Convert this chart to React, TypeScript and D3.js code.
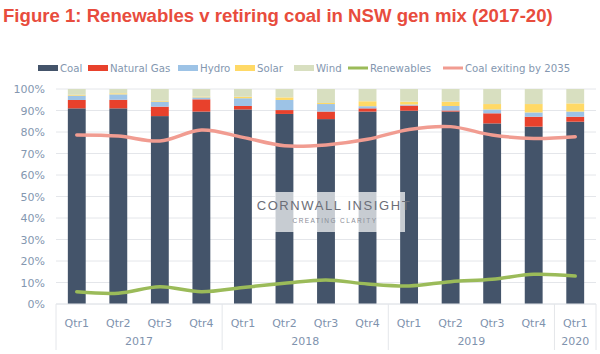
import React from "react";
import * as d3 from "d3";

const quarters = ["Qtr1","Qtr2","Qtr3","Qtr4","Qtr1","Qtr2","Qtr3","Qtr4","Qtr1","Qtr2","Qtr3","Qtr4","Qtr1"];
const years = ["2017","2018","2019","2020"];
const yearCounts = [4, 4, 4, 1];
const coal =        [91.0, 91.0, 87.4, 89.5, 90.5, 88.4, 86.0, 89.5, 89.9, 89.5, 84.0, 82.5, 84.8];
const naturalGas =  [3.9, 4.0, 4.4, 5.7, 1.6, 1.8, 3.5, 1.5, 2.4, 0.5, 4.7, 4.6, 2.3];
const hydro =       [2.0, 2.5, 2.3, 0.9, 3.6, 4.7, 3.5, 1.0, 0.5, 2.1, 1.8, 2.0, 2.4];
const solar =       [0.4, 0.5, 0.4, 0.4, 0.7, 1.2, 0.5, 2.3, 1.3, 2.0, 2.5, 3.9, 3.8];
const wind =        [2.7, 2.0, 5.5, 3.5, 3.6, 3.9, 6.5, 5.7, 5.9, 5.9, 7.0, 7.0, 6.7];
const renewables =  [5.7, 5.0, 8.0, 5.7, 7.7, 9.6, 11.2, 9.3, 8.4, 10.4, 11.5, 13.8, 13.0];
const coalExiting = [78.6, 78.1, 75.8, 80.9, 77.5, 73.6, 74.0, 76.6, 81.2, 82.5, 78.6, 77.0, 77.8];
const yTicks = [0,10,20,30,40,50,60,70,80,90,100];

const seriesNames = ["Coal","Natural Gas","Hydro","Solar","Wind"];
const seriesColors = ["#44546A","#E8412C","#9DC3E6","#FFD966","#D8DFC0"];
const lineNames = ["Renewables","Coal exiting by 2035"];
const lineColors = ["#9BBB59","#F19C91"];

const W = 600, H = 354;
const left = 56, right = 596, top = 89, bottom = 304;
const labelColor = "#8497B0";
const font = "'DejaVu Sans', Verdana, sans-serif";

export default function App() {
  const idx = quarters.map((_, i) => String(i));
  const x = d3.scaleBand<string>().domain(idx).range([left, right]).paddingInner(0.57).paddingOuter(0.285);
  const y = d3.scaleLinear().domain([0, 100]).range([bottom, top]);
  const rows = quarters.map((_, i) => ({
    i: String(i),
    Coal: coal[i], "Natural Gas": naturalGas[i], Hydro: hydro[i], Solar: solar[i], Wind: wind[i],
  }));
  const stacked = d3.stack<any>().keys(seriesNames)(rows);
  const step = x.step();
  const cx = (i: number) => (x(String(i)) as number) + x.bandwidth() / 2;
  const line = d3.line<number>().x((_, i) => cx(i)).y(d => y(d)).curve(d3.curveCatmullRom.alpha(0.5));

  const bounds: number[] = [0];
  yearCounts.forEach(c => bounds.push(bounds[bounds.length - 1] + c));

  const legendItems = [
    { name: seriesNames[0], color: seriesColors[0], x: 38, h: 6 },
    { name: seriesNames[1], color: seriesColors[1], x: 88, h: 6 },
    { name: seriesNames[2], color: seriesColors[2], x: 178, h: 6 },
    { name: seriesNames[3], color: seriesColors[3], x: 235, h: 6 },
    { name: seriesNames[4], color: seriesColors[4], x: 294, h: 6 },
    { name: lineNames[0], color: lineColors[0], x: 348, h: 3 },
    { name: lineNames[1], color: lineColors[1], x: 443, h: 3 },
  ];

  return (
    <svg width={W} height={H} style={{ position: "absolute", left: 0, top: 0, background: "#fff" }}>
      <rect x={0} y={0} width={W} height={H} fill="#fff" />
      <text x={3} y={22} fill="#E84C3D" fontFamily="'Liberation Sans', Arial, sans-serif" fontWeight="bold" fontSize={18.6}>
        Figure 1: Renewables v retiring coal in NSW gen mix (2017-20)
      </text>
      <g fontFamily={font} fontSize={10.2} fill={labelColor}>
        {legendItems.map(it => (
          <g key={it.name}>
            <rect x={it.x} y={68 - it.h / 2} width={20} height={it.h} fill={it.color} />
            <text x={it.x + 22} y={71.5}>{it.name}</text>
          </g>
        ))}
      </g>
      {yTicks.map(t => (
        <line key={t} x1={left} x2={right} y1={y(t)} y2={y(t)} stroke="#E4E6EA" strokeWidth={1} />
      ))}
      <g fontFamily={font} fontSize={11} fill={labelColor} textAnchor="end">
        {yTicks.map(t => (
          <text key={t} x={45} y={y(t) + 4}>{t}%</text>
        ))}
      </g>
      {stacked.map((s, si) => (
        <g key={s.key} fill={seriesColors[si]}>
          {s.map((d, i) => (
            <rect key={i} x={x(String(i))} y={y(d[1])} width={x.bandwidth()} height={Math.max(0, y(d[0]) - y(d[1]))} />
          ))}
        </g>
      ))}
      <path d={line(coalExiting) || ""} fill="none" stroke={lineColors[1]} strokeWidth={3.5} strokeLinecap="round" />
      <path d={line(renewables) || ""} fill="none" stroke={lineColors[0]} strokeWidth={3.5} strokeLinecap="round" />
      <rect x={275} y={192} width={130} height={40} fill="#fff" fillOpacity={0.7} />
      <text x={334} y={210} textAnchor="middle" fontFamily="'Liberation Sans', Arial, sans-serif" fontSize={13} letterSpacing={1.6} fill="#6b6e78">CORNWALL INSIGHT</text>
      <text x={335} y={223} textAnchor="middle" fontFamily="'Liberation Sans', Arial, sans-serif" fontSize={6.5} letterSpacing={1.4} fill="#8a8e98">CREATING CLARITY</text>
      <line x1={left} x2={right} y1={bottom} y2={bottom} stroke="#E4E6EA" />
      {bounds.map((b, i) => (
        <line key={i} x1={left + b * step} x2={left + b * step} y1={bottom} y2={350} stroke="#E4E6EA" />
      ))}
      <g fontFamily={font} fontSize={11} fill="#7F93AE" textAnchor="middle">
        {quarters.map((q, i) => (
          <text key={i} x={cx(i)} y={327}>{q}</text>
        ))}
        {years.map((yr, i) => (
          <text key={yr} x={left + ((bounds[i] + bounds[i + 1]) / 2) * step} y={345}>{yr}</text>
        ))}
      </g>
    </svg>
  );
}
